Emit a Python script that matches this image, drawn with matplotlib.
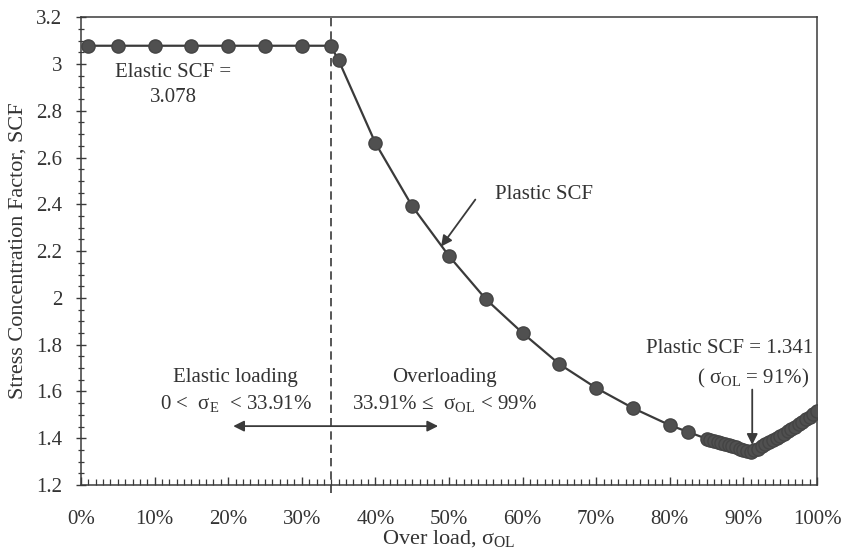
import matplotlib
matplotlib.use("Agg")
import matplotlib.pyplot as plt
from matplotlib.ticker import MultipleLocator, FixedLocator

plt.rcParams['font.family'] = ['Liberation Serif', 'DejaVu Serif']
plt.rcParams['mathtext.fontset'] = 'custom'
plt.rcParams['mathtext.rm'] = 'Liberation Serif'

# ---- data ----
overload_pct = [1, 5, 10, 15, 20, 25, 30, 33.91, 35, 40, 45, 50, 55, 60, 65, 70, 75, 80, 82.5,
                85, 85.5, 86, 86.5, 87, 87.5, 88, 88.5, 89, 89.5, 90, 90.5, 91,
                91.5, 92, 92.5, 93, 93.5, 94, 94.5, 95, 95.5, 96, 96.5, 97, 97.5, 98, 98.5, 99, 99.5, 100]
scf = [3.078, 3.078, 3.078, 3.078, 3.078, 3.078, 3.078, 3.078, 3.016, 2.662, 2.392, 2.179, 1.995,
       1.850, 1.717, 1.615, 1.529, 1.456, 1.427,
       1.398, 1.393, 1.388, 1.384, 1.379, 1.375, 1.370, 1.366, 1.361, 1.356, 1.351, 1.346, 1.341,
       1.348, 1.356, 1.365, 1.374, 1.383, 1.392, 1.401, 1.410, 1.420, 1.430, 1.440, 1.450, 1.460,
       1.470, 1.481, 1.492, 1.503, 1.515]
elastic_limit = 33.91
x_ticks = [0, 10, 20, 30, 40, 50, 60, 70, 80, 90, 100]
x_tick_labels = ['0%', '10%', '20%', '30%', '40%', '50%', '60%', '70%', '80%', '90%', '100%']
y_ticks = [1.2, 1.4, 1.6, 1.8, 2.0, 2.2, 2.4, 2.6, 2.8, 3.0, 3.2]
y_tick_labels = ['1.2', '1.4', '1.6', '1.8', '2', '2.2', '2.4', '2.6', '2.8', '3', '3.2']

ink = '#3a3a3a'

fig = plt.figure(figsize=(8.44, 5.55), dpi=100)
ax = fig.add_axes([0.096, 0.126, 0.872, 0.843])

ax.plot(overload_pct, scf, color=ink, lw=1.6, marker='o', ms=9.5,
        markerfacecolor='#505050', markeredgecolor='#444444', zorder=3)

ax.plot([elastic_limit, elastic_limit], [1.165, 3.2], color=ink, lw=1.2,
        ls=(0, (5, 3)), clip_on=False, zorder=2)

ax.set_xlim(0, 100)
ax.set_ylim(1.2, 3.2)
ax.xaxis.set_major_locator(FixedLocator(x_ticks))
ax.set_xticklabels(x_tick_labels)
ax.xaxis.set_minor_locator(MultipleLocator(1))
ax.yaxis.set_major_locator(FixedLocator(y_ticks))
ax.set_yticklabels(y_tick_labels)
ax.yaxis.set_minor_locator(MultipleLocator(0.05))

ax.tick_params(axis='x', which='major', direction='in', length=6, width=1, colors=ink,
               labelsize=15, pad=18, labelcolor='#333333')
ax.tick_params(axis='x', which='minor', direction='in', length=4, width=0.9, colors=ink)
ax.tick_params(axis='y', which='major', direction='inout', length=7, width=1, colors=ink,
               labelsize=15, pad=10, labelcolor='#333333')
ax.tick_params(axis='y', which='minor', direction='inout', length=5, width=0.9, colors=ink)
for s in ax.spines.values():
    s.set_color(ink)
    s.set_linewidth(1.1)

ax.set_xlabel('Over load, σ$_{\\mathrm{OL}}$', fontsize=16, color='#333333', labelpad=0)
ax.set_ylabel('Stress Concentration Factor, SCF', fontsize=16, color='#333333', labelpad=6)

tc = '#333333'
fs = 15
ax.text(12.5, 2.965, 'Elastic SCF =', ha='center', va='center', fontsize=fs, color=tc)
ax.text(12.5, 2.855, '3.078', ha='center', va='center', fontsize=fs, color=tc)

ax.annotate('', xy=(48.7, 2.21), xytext=(53.8, 2.43),
            arrowprops=dict(arrowstyle='-|>', color=ink, lw=1.3, mutation_scale=16))
ax.text(56.2, 2.44, 'Plastic SCF', ha='left', va='center', fontsize=fs, color=tc)

ax.text(99.5, 1.783, 'Plastic SCF = 1.341', ha='right', va='center', fontsize=fs, color=tc)
ax.text(91.3, 1.655, '( σ$_{\\mathrm{OL}}$ = 91%)', ha='center', va='center', fontsize=fs, color=tc)
ax.annotate('', xy=(91.2, 1.36), xytext=(91.2, 1.62),
            arrowprops=dict(arrowstyle='-|>', color=ink, lw=1.3, mutation_scale=16))

ax.text(21, 1.66, 'Elastic loading', ha='center', va='center', fontsize=fs, color=tc)
ax.text(21, 1.545, '0 <  σ$_{\\mathrm{E}}$  < 33.91%', ha='center', va='center', fontsize=fs, color=tc)
ax.text(49.4, 1.66, 'Overloading', ha='center', va='center', fontsize=fs, color=tc)
ax.text(49.4, 1.545, '33.91% ≤  σ$_{\\mathrm{OL}}$ < 99%', ha='center', va='center', fontsize=fs, color=tc)
ax.annotate('', xy=(20.3, 1.452), xytext=(48.9, 1.452),
            arrowprops=dict(arrowstyle='<|-|>', color=ink, lw=1.3, mutation_scale=16))

fig.savefig('out.png', dpi=100)
